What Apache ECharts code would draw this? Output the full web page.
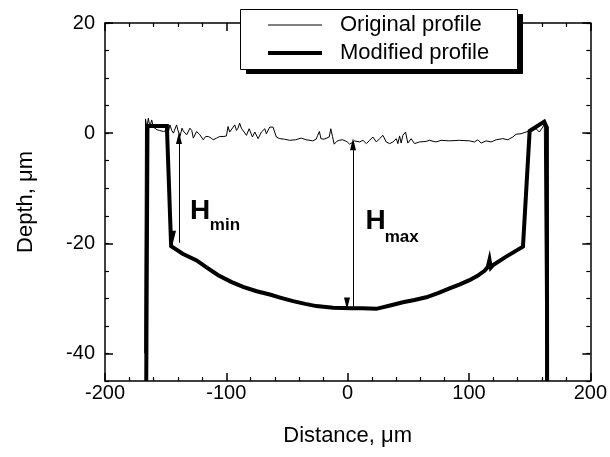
<!DOCTYPE html>
<html><head><meta charset="utf-8">
<script src="https://cdn.jsdelivr.net/npm/echarts@6/dist/echarts.min.js"></script>
<style>html,body{margin:0;padding:0;background:#fff}#c{width:610px;height:457px}</style>
</head><body><div id="c"></div>
<script>
// ---- data ----
const origX = [-167.3,-166.6,-165.5,-164.3,-163,-161.5,-160.2,-158.8,-157,-155,-152,-150,-148,-146.5,-145,-143.6,-141,-140,-138.2,-136.5,-135.5,-132.7,-130,-128.5,-127.2,-124.5,-121.8,-119,-117,-114.9,-112.5,-110.8,-108,-105.4,-102,-99.9,-98.6,-97.2,-95.8,-93.1,-91.6,-90.4,-89,-87.6,-86.1,-83.4,-81.2,-78.5,-76.5,-73.8,-71.1,-68.3,-67,-64.2,-61.5,-58.8,-56,-52,-47.8,-43,-38.3,-34.2,-31,-28.8,-26,-24.7,-23.3,-22,-19.5,-17.9,-15.2,-13.9,-12.5,-11.1,-9,-7,-4.3,-2,-0.3,1.6,3.8,5.5,7.1,9.9,12.6,15.4,18.1,20.8,23.6,26.3,29.1,31.8,34.6,37.3,40.1,41.4,42.8,44.1,45.5,47.7,49.6,52.3,55.1,59.2,64.6,67.4,72.8,77,83.8,92,100.4,104.5,107.3,110,114.1,118.2,122.4,127.9,132,136.1,138.8,142.9,147,151.1,155.3,158,160.8,162.1,163.5];
const origY = [-40,2.6,0.9,2.7,1.2,2.4,1.1,0.8,0.6,0.5,0.3,0.4,-0.1,1.5,0.5,0,1.5,0.6,-0.6,0.9,0.4,-0.3,0.9,0.5,-0.9,0.3,-0.3,-1.2,-0.6,-0.6,-0.9,-1.2,-0.9,-0.6,-0.6,-0.5,1.2,0.2,0,1.5,0.5,0.9,1.8,0.9,0.8,-0.4,0.8,-0.7,0.2,-1,0.2,0.8,-0.1,1.1,1.1,-0.7,-1,-1.1,-1.3,-1.2,-0.9,-1.2,-1.3,-1.4,-1.1,-0.4,0.3,-1,-1.1,-1.3,-0.7,0.8,-0.6,-2,-1.5,-1.3,-1.2,-1.4,-1.6,-2,-1.7,-1.4,-1.3,-1.6,-1.3,-1.9,-1.3,-0.7,-1.6,-1,-0.4,-1.6,-1.9,-1.6,-1,-1.9,-0.5,-1.8,-0.4,0.2,-1.8,-1,-1.9,-1.6,-1.5,-1.3,-1.6,-1.3,-1.4,-1.3,-1.4,-1.6,-1.2,-1.8,-1.4,-1.6,-1.2,-1,-1.2,-0.7,-0.2,-0.1,0.2,0.5,0.8,0.2,1.1,1.7,-45];
const modX = [-166,-165,-149,-145.5,-136,-124.5,-116,-106.7,-96,-86.2,-75,-64.2,-55,-45,-35,-25.8,-12,3,12,23.6,35,45.5,55,64.8,75,84,92,100.4,107,112.8,115.5,116.9,118,119.6,130,144.5,150,162,164.2,164.4];
const modY = [-45,1.3,1.3,-20.5,-21.9,-23.1,-24.4,-25.8,-27,-27.9,-28.7,-29.3,-29.9,-30.5,-31,-31.4,-31.7,-31.8,-31.8,-31.9,-31.3,-30.7,-30.3,-29.8,-29,-28.2,-27.5,-26.7,-25.9,-25,-24.3,-23,-24.4,-24,-22.5,-20.6,0.4,2.1,1,-45];
const xTickLabels = [-200,-100,0,100,200];
const yTickLabels = [-40,-20,0,20];
const seriesNames = ['Original profile','Modified profile'];
const arrowHmin = [[-139,-0.9],[-139,-19.9]];
const arrowHmax = [[4.4,-2],[4.4,-32]];
const annotations = [
  {main:'H', sub:'min', at:[-130,-14.2], subAt:[-113.6,-16.7]},
  {main:'H', sub:'max', at:[14.8,-16.0], subAt:[30.5,-18.9]}
];

const FONT = '"Liberation Sans", Arial, Helvetica, sans-serif';
const zip = (a,b)=>a.map((v,i)=>[v,b[i]]);
const chart = echarts.init(document.getElementById('c'), null, {renderer:'canvas'});

const black = '#000';
const lineWidths = [1, 4];
function xAx(pos, labels){
  return {
    type:'value', position:pos, min:-200, max:200, interval:100,
    axisLine:{show:true, onZero:false, lineStyle:{color:black, width:1.5}},
    axisTick:{show:true, inside:true, length:8, lineStyle:{color:black, width:1.5}},
    minorTick:{show:true, splitNumber:5, length:4, lineStyle:{color:black, width:1.2}},
    splitLine:{show:false}, minorSplitLine:{show:false},
    axisLabel:{show:labels, color:black, fontSize:20, fontFamily:FONT, margin:2,
      formatter:v=> xTickLabels.indexOf(v)>=0 ? String(v) : ''},
    name: labels ? 'Distance, μm' : null, nameLocation:'middle', nameGap:44,
    nameTextStyle:{color:black, fontSize:22, fontFamily:FONT}
  };
}
function yAxMinor(pos, labels){
  return {
    type:'value', position:pos, min:-45, max:20, interval:5,
    axisLine:{show:true, onZero:false, lineStyle:{color:black, width:1.5}},
    axisTick:{show:true, inside:true, length:4, lineStyle:{color:black, width:1.2}},
    splitLine:{show:false},
    axisLabel:{show:labels, color:black, fontSize:20, fontFamily:FONT, margin:10,
      formatter:v=> yTickLabels.indexOf(v)>=0 ? String(v) : ''},
    name: labels ? 'Depth, μm' : null, nameLocation:'middle', nameGap:68, nameRotate:90,
    nameTextStyle:{color:black, fontSize:22, fontFamily:FONT}
  };
}
function yAxMajor(pos){
  return {
    type:'value', position:pos, min:-45, max:20,
    axisLine:{show:false, onZero:false},
    axisTick:{show:true, inside:true, length:8, customValues:yTickLabels, lineStyle:{color:black, width:1.5}},
    axisLabel:{show:false}, splitLine:{show:false}
  };
}

chart.setOption({
  animation:false,
  backgroundColor:'#fff',
  grid:{left:105, right:19, top:23, bottom:76, containLabel:false},
  xAxis:[xAx('bottom', true), xAx('top', false)],
  yAxis:[yAxMinor('left', true), yAxMajor('left'), yAxMinor('right', false), yAxMajor('right')],
  legend:{
    show:true, left:266, top:14, orient:'vertical',
    data:seriesNames.map((n,i)=>({name:n, lineStyle:{color:black, width:lineWidths[i]},
                                   itemStyle:{color:'rgba(0,0,0,0)', borderWidth:0}})),
    itemWidth:54, itemHeight:14, itemGap:6,
    padding:0,
    itemStyle:{color:'rgba(0,0,0,0)', borderWidth:0},
    textStyle:{color:black, fontSize:22, fontFamily:FONT, padding:[0,0,0,13]},
    selectedMode:false, z:10
  },
  graphic:[
    {type:'rect', z:8, shape:{x:246, y:14, width:277, height:60}, style:{fill:'#000'}},
    {type:'rect', z:9, shape:{x:240.5, y:9.5, width:277, height:60}, style:{fill:'#fff', stroke:'#000', lineWidth:1}}
  ],
  series:[
    {name:seriesNames[0], type:'line', data:zip(origX,origY), symbol:'none', showSymbol:false,
     lineStyle:{color:black, width:lineWidths[0]}, itemStyle:{color:black}, z:2, clip:true},
    {name:seriesNames[1], type:'line', data:zip(modX,modY), symbol:'none', showSymbol:false,
     lineStyle:{color:black, width:lineWidths[1], join:'miter'}, itemStyle:{color:black}, z:3, clip:true},
    {name:'arrows', type:'line', data:[], symbol:'none',
     markLine:{silent:true, symbol:['triangle','triangle'], symbolSize:[6,12], symbolOffset:[0,6],
       label:{show:false}, lineStyle:{color:black, width:1, type:'solid'},
       emphasis:{disabled:true},
       data:[
         [{coord:arrowHmin[0]},{coord:arrowHmin[1]}],
         [{coord:arrowHmax[0]},{coord:arrowHmax[1]}]
       ]}}
  ]
});

const texts = [];
annotations.forEach((a,i)=>{
  const p = chart.convertToPixel({xAxisIndex:0, yAxisIndex:0}, a.at);
  const q = chart.convertToPixel({xAxisIndex:0, yAxisIndex:0}, a.subAt);
  texts.push({type:'text', id:'hm'+i, x:p[0], y:p[1], z:10,
    style:{text:a.main, fontSize:28, fontWeight:'bold', fontFamily:FONT, fill:black, align:'left', verticalAlign:'middle'}});
  texts.push({type:'text', id:'hs'+i, x:q[0], y:q[1], z:10,
    style:{text:a.sub, fontSize:17, fontWeight:'bold', fontFamily:FONT, fill:black, align:'left', verticalAlign:'middle'}});
});
chart.setOption({graphic:texts});
</script>
</body></html>
